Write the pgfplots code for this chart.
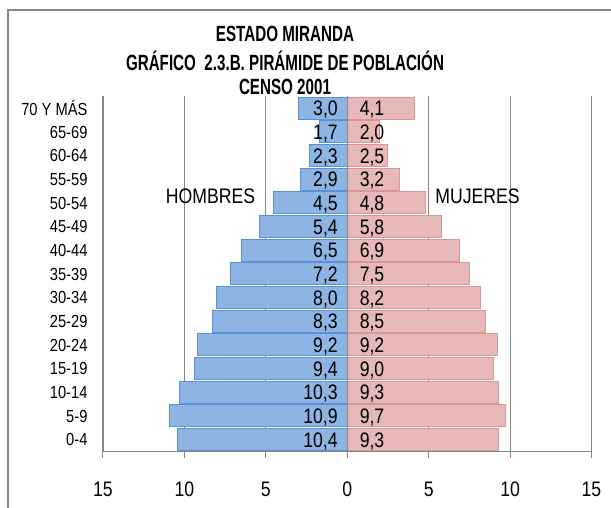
\documentclass[border=0pt]{standalone}
\usepackage{pgfplots}
\pgfplotsset{compat=1.18}
\usepackage{pgfplotstable}
\usepackage{fontspec}
\setmainfont[FakeStretch=0.84]{Liberation Sans}
\newfontfamily\titlefont[FakeStretch=0.69]{Liberation Sans}
\definecolor{hblue}{RGB}{142,180,227}
\definecolor{hblueedge}{RGB}{90,145,214}
\definecolor{mpink}{RGB}{230,185,184}
\definecolor{mpinkedge}{RGB}{217,150,148}
\definecolor{gridgray}{RGB}{134,134,134}
\definecolor{framegray}{RGB}{136,136,136}

\pgfplotstableread{
y h m hl ml
0 -10.4 9.3 10,4 9,3
1 -10.9 9.7 10,9 9,7
2 -10.3 9.3 10,3 9,3
3 -9.4 9.0 9,4 9,0
4 -9.2 9.2 9,2 9,2
5 -8.3 8.5 8,3 8,5
6 -8.0 8.2 8,0 8,2
7 -7.2 7.5 7,2 7,5
8 -6.5 6.9 6,5 6,9
9 -5.4 5.8 5,4 5,8
10 -4.5 4.8 4,5 4,8
11 -2.9 3.2 2,9 3,2
12 -2.3 2.5 2,3 2,5
13 -1.7 2.0 1,7 2,0
14 -3.0 4.1 3,0 4,1
}\data

\begin{document}
\begin{tikzpicture}[x=1pt,y=1pt]
\useasboundingbox (0,0) rectangle (611,508);
\fill[white] (0,0) rectangle (611,508);
\draw[framegray, line width=2pt] (7.5,0) -- (7.5,497.5) -- (611,497.5);
\node[anchor=base, font=\titlefont\bfseries\fontsize{22}{26}\selectfont] at (285,466) {ESTADO MIRANDA};
\node[anchor=base, font=\titlefont\bfseries\fontsize{22}{26}\selectfont] at (285,437) {GRÁFICO\ \ 2.3.B. PIRÁMIDE DE POBLACIÓN};
\node[anchor=base, font=\titlefont\bfseries\fontsize{22}{26}\selectfont] at (285,413) {CENSO 2001};
\begin{axis}[
  at={(103pt,56.5pt)}, anchor=south west,
  scale only axis, width=488.5pt, height=355pt,
  xmin=-15, xmax=15, ymin=-0.5, ymax=14.5,
  axis x line*=bottom, axis y line*=left,
  axis line style={gridgray, line width=1.2pt},
  xtick={-15,-10,...,15}, xticklabels={15,10,5,0,5,10,15},
  xmajorgrids, major grid style={gridgray, line width=1pt},
  xtick style={gridgray, line width=1pt}, xtick align=outside, major tick length=7pt,
  ytick={0,...,14},
  yticklabels={0-4,5-9,10-14,15-19,20-24,25-29,30-34,35-39,40-44,45-49,50-54,55-59,60-64,65-69,70 Y MÁS},
  ytick style={draw=none},
  /pgf/number format/assume math mode=true,
  xticklabel style={font=\fontsize{21}{25}\selectfont, yshift=-20pt},
  yticklabel style={font=\fontsize{17.5}{21}\selectfont, anchor=east, xshift=-12pt},
  clip=false,
]
\addplot[gridgray, line width=1.2pt] coordinates {(-15,-0.5) (-15,14.5)};
\addplot[gridgray, line width=1.2pt] coordinates {(15,-0.5) (15,14.5)};
\addplot[xbar, bar width=22pt, bar shift=0pt, fill=hblue, draw=hblueedge, line width=1pt] table[x=h, y=y] {\data};
\addplot[xbar, bar width=22pt, bar shift=0pt, fill=mpink, draw=mpinkedge, line width=1pt] table[x=m, y=y] {\data};
\addplot[gridgray, line width=1.1pt] coordinates {(0,-0.5) (0,14.5)};
\addplot[draw=none, mark=none, nodes near coords, point meta=explicit symbolic,
  every node near coord/.append style={anchor=east, xshift=-6pt, yshift=-1.5pt, font=\fontsize{21}{25}\selectfont, black}]
  table[x expr=0, y=y, meta=hl] {\data};
\addplot[draw=none, mark=none, nodes near coords, point meta=explicit symbolic,
  every node near coord/.append style={anchor=west, xshift=9pt, yshift=-1.5pt, font=\fontsize{21}{25}\selectfont, black}]
  table[x expr=0, y=y, meta=ml] {\data};
\node[font=\fontsize{21}{25}\selectfont] at (axis cs:-8.4,10.3) {HOMBRES};
\node[font=\fontsize{21}{25}\selectfont] at (axis cs:8.0,10.3) {MUJERES};
\end{axis}
\end{tikzpicture}
\end{document}
